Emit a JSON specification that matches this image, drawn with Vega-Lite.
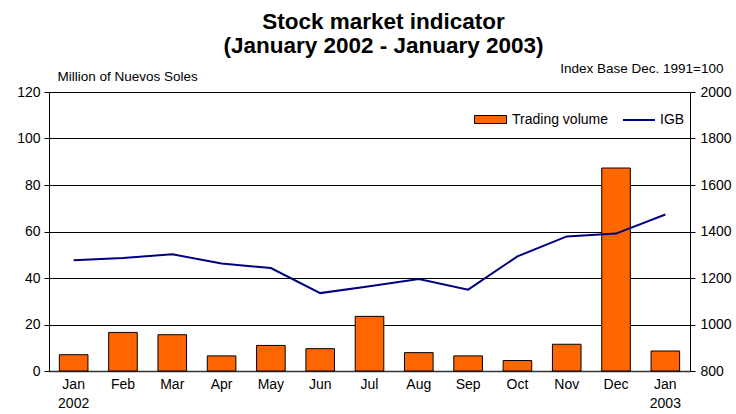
{
  "$schema": "https://vega.github.io/schema/vega-lite/v6.json",
  "autosize": {"type": "none"},
  "width": 641,
  "height": 279,
  "padding": {"left": 49, "top": 92, "right": 46, "bottom": 43},
  "background": "white",
  "config": {
    "font": "Liberation Sans",
    "view": {"stroke": null}
  },
  "title": {
    "text": ["Stock market indicator", "(January 2002 - January 2003)"],
    "fontSize": 22.5,
    "fontWeight": "bold",
    "color": "black",
    "anchor": "middle",
    "dx": 14,
    "lineHeight": 24,
    "offset": 4
  },
  "data": {
    "values": [
      {"month": "Jan|2002", "volume": 7.0, "igb": 1276},
      {"month": "Feb", "volume": 16.6, "igb": 1286},
      {"month": "Mar", "volume": 15.6, "igb": 1302},
      {"month": "Apr", "volume": 6.5, "igb": 1262},
      {"month": "May", "volume": 11.0, "igb": 1243},
      {"month": "Jun", "volume": 9.6, "igb": 1135},
      {"month": "Jul", "volume": 23.5, "igb": 1165},
      {"month": "Aug", "volume": 7.9, "igb": 1196},
      {"month": "Sep", "volume": 6.5, "igb": 1150},
      {"month": "Oct", "volume": 4.5, "igb": 1293},
      {"month": "Nov", "volume": 11.5, "igb": 1379},
      {"month": "Dec", "volume": 87.3, "igb": 1391},
      {"month": "Jan|2003", "volume": 8.6, "igb": 1473}
    ]
  },
  "encoding": {
    "x": {
      "field": "month",
      "type": "nominal",
      "sort": null,
      "scale": {"paddingInner": 0.42, "paddingOuter": 0.21},
      "axis": {
        "title": null,
        "labelAngle": 0,
        "labelExpr": "split(datum.label, '|')",
        "labelFontSize": 14,
        "labelColor": "black",
        "labelLineHeight": 19,
        "labelPadding": 6,
        "ticks": false,
        "domainColor": "#333333",
        "domainWidth": 1.5
      }
    }
  },
  "layer": [
    {
      "mark": {"type": "bar", "stroke": "black", "strokeWidth": 1},
      "encoding": {
        "y": {
          "field": "volume",
          "type": "quantitative",
          "scale": {"domain": [0, 120]},
          "axis": {
            "values": [0, 20, 40, 60, 80, 100, 120],
            "title": "Million of Nuevos Soles",
            "titleAngle": 0,
            "titleX": 8,
            "titleY": -12,
            "titleAlign": "left",
            "titleBaseline": "alphabetic",
            "titleFontSize": 13.5,
            "titleFontWeight": "normal",
            "titleColor": "black",
            "labelFontSize": 14,
            "labelColor": "black",
            "labelPadding": 4,
            "tickSize": 5,
            "tickColor": "black",
            "domainColor": "black",
            "grid": true,
            "gridColor": "black",
            "gridWidth": 1
          }
        },
        "fill": {
          "datum": "Trading volume",
          "type": "nominal",
          "scale": {"range": ["#FF6600"]},
          "legend": {
            "title": null,
            "orient": "none",
            "legendX": 425,
            "legendY": 11,
            "symbolType": "M-1,-0.25H1V0.25H-1Z",
            "symbolSize": 1024,
            "symbolStrokeColor": "black",
            "symbolStrokeWidth": 1,
            "labelFontSize": 14,
            "labelColor": "black",
            "labelOffset": 5
          }
        }
      }
    },
    {
      "mark": {"type": "line", "strokeWidth": 2},
      "encoding": {
        "y": {
          "field": "igb",
          "type": "quantitative",
          "scale": {"domain": [800, 2000]},
          "axis": {
            "orient": "right",
            "values": [800, 1000, 1200, 1400, 1600, 1800, 2000],
            "format": "d",
            "title": "Index Base Dec. 1991=100",
            "titleAngle": 0,
            "titleX": 33,
            "titleY": -20,
            "titleAlign": "right",
            "titleBaseline": "alphabetic",
            "titleFontSize": 13.5,
            "titleFontWeight": "normal",
            "titleColor": "black",
            "labelFontSize": 14,
            "labelColor": "black",
            "labelPadding": 5,
            "tickSize": 5,
            "tickColor": "black",
            "domainColor": "black",
            "grid": false
          }
        },
        "stroke": {
          "datum": "IGB",
          "type": "nominal",
          "scale": {"range": ["#000080"]},
          "legend": {
            "title": null,
            "orient": "none",
            "legendX": 573,
            "legendY": 11,
            "symbolType": "stroke",
            "symbolSize": 1024,
            "symbolStrokeWidth": 2,
            "labelFontSize": 14,
            "labelColor": "black",
            "labelOffset": 4
          }
        }
      }
    }
  ],
  "resolve": {"scale": {"y": "independent", "fill": "independent", "stroke": "independent"}}
}
